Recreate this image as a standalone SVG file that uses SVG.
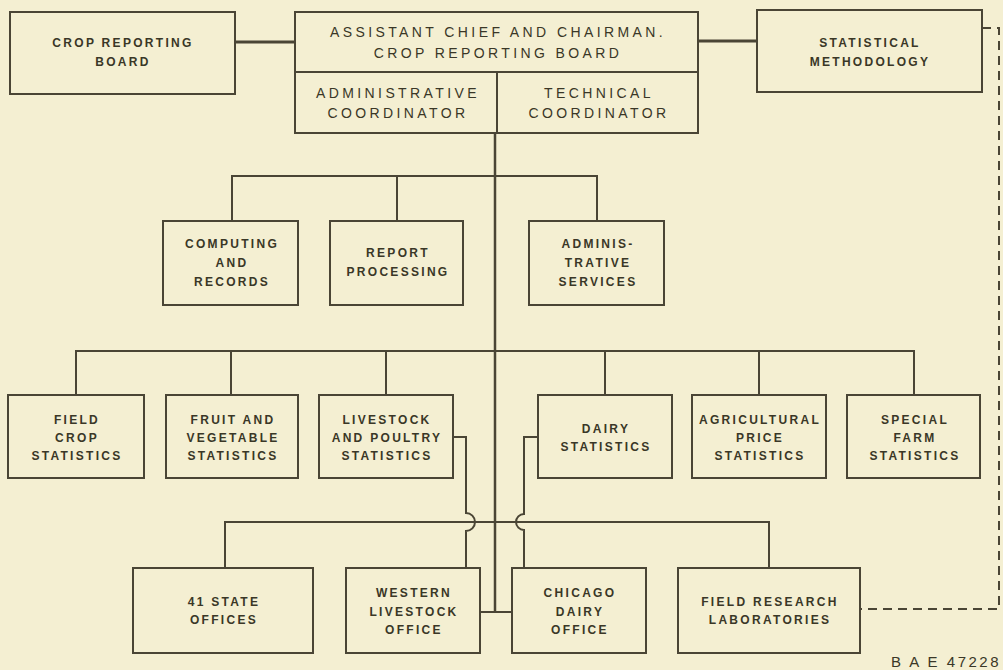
<svg xmlns="http://www.w3.org/2000/svg" width="1003" height="670" viewBox="0 0 1003 670">
<style>
.bx{fill:none;stroke:#4a4535;stroke-width:2}
.ln{fill:none;stroke:#4a4535;stroke-width:2}
.thk{stroke-width:3}
.dsh{fill:none;stroke:#4a4535;stroke-width:2;stroke-dasharray:9 6}
text{font-family:"Liberation Sans",Arial,sans-serif;fill:#3a3727;text-anchor:middle}
.big{font-size:14px;letter-spacing:3.4px}
.sm{font-size:12px;letter-spacing:2.3px;font-weight:bold}
.code{font-size:15px;letter-spacing:2.5px;text-anchor:end}
</style>
<rect x="0" y="0" width="1003" height="670" fill="#f4efd2"/>
<g id="connectors">
<path class="ln thk" d="M235 42H295"/>
<path class="ln thk" d="M698 41H757"/>
<path class="ln" style="stroke-width:2.5" d="M495 133V612"/>
<path class="ln" d="M480 612H512"/>
<path class="ln" d="M232 221V176H597V221M397 176V221"/>
<path class="ln" d="M76 395V351H914V395M231 351V395M386 351V395M605 351V395M759 351V395"/>
<path class="ln" d="M453 437H466V513A9 9 0 0 1 466 531V568"/>
<path class="ln" d="M538 437H524V514A8 8 0 0 0 524 530V568"/>
<path class="ln" d="M225 568V522H769V568"/>
<path class="dsh" d="M982 28H999V609H860"/>
</g>
<g id="crop-reporting-board">
<rect class="bx" x="10" y="12" width="225" height="82"/>
<text class="sm" x="123" y="47">CROP REPORTING</text>
<text class="sm" x="123" y="66">BOARD</text>
</g>
<g id="assistant-chief">
<rect class="bx" x="295" y="12" width="403" height="121"/>
<path class="ln" d="M295 72H698M497 72V133"/>
<text class="big" x="498" y="37">ASSISTANT CHIEF AND CHAIRMAN.</text>
<text class="big" x="498" y="58">CROP REPORTING BOARD</text>
<text class="big" x="398" y="98">ADMINISTRATIVE</text>
<text class="big" x="398" y="118">COORDINATOR</text>
<text class="big" x="599" y="98">TECHNICAL</text>
<text class="big" x="599" y="118">COORDINATOR</text>
</g>
<g id="statistical-methodology">
<rect class="bx" x="757" y="10" width="225" height="82"/>
<text class="sm" x="870" y="47">STATISTICAL</text>
<text class="sm" x="870" y="66">METHODOLOGY</text>
</g>
<g id="computing-records">
<rect class="bx" x="163" y="221" width="135" height="84"/>
<text class="sm" x="232" y="248">COMPUTING</text>
<text class="sm" x="232" y="267">AND</text>
<text class="sm" x="232" y="286">RECORDS</text>
</g>
<g id="report-processing">
<rect class="bx" x="330" y="221" width="133" height="84"/>
<text class="sm" x="398" y="257">REPORT</text>
<text class="sm" x="398" y="276">PROCESSING</text>
</g>
<g id="administrative-services">
<rect class="bx" x="529" y="221" width="135" height="84"/>
<text class="sm" x="598" y="248">ADMINIS-</text>
<text class="sm" x="598" y="267">TRATIVE</text>
<text class="sm" x="598" y="286">SERVICES</text>
</g>
<g id="field-crop">
<rect class="bx" x="8" y="395" width="136" height="83"/>
<text class="sm" x="77" y="424">FIELD</text>
<text class="sm" x="77" y="442">CROP</text>
<text class="sm" x="77" y="460">STATISTICS</text>
</g>
<g id="fruit-vegetable">
<rect class="bx" x="166" y="395" width="132" height="83"/>
<text class="sm" x="233" y="424">FRUIT AND</text>
<text class="sm" x="233" y="442">VEGETABLE</text>
<text class="sm" x="233" y="460">STATISTICS</text>
</g>
<g id="livestock-poultry">
<rect class="bx" x="319" y="395" width="134" height="83"/>
<text class="sm" x="387" y="424">LIVESTOCK</text>
<text class="sm" x="387" y="442">AND POULTRY</text>
<text class="sm" x="387" y="460">STATISTICS</text>
</g>
<g id="dairy-statistics">
<rect class="bx" x="538" y="395" width="134" height="83"/>
<text class="sm" x="606" y="433">DAIRY</text>
<text class="sm" x="606" y="451">STATISTICS</text>
</g>
<g id="agricultural-price">
<rect class="bx" x="692" y="395" width="134" height="83"/>
<text class="sm" x="760" y="424">AGRICULTURAL</text>
<text class="sm" x="760" y="442">PRICE</text>
<text class="sm" x="760" y="460">STATISTICS</text>
</g>
<g id="special-farm">
<rect class="bx" x="847" y="395" width="133" height="83"/>
<text class="sm" x="915" y="424">SPECIAL</text>
<text class="sm" x="915" y="442">FARM</text>
<text class="sm" x="915" y="460">STATISTICS</text>
</g>
<g id="state-offices">
<rect class="bx" x="133" y="568" width="180" height="85"/>
<text class="sm" x="224" y="606">41 STATE</text>
<text class="sm" x="224" y="624">OFFICES</text>
</g>
<g id="western-livestock">
<rect class="bx" x="346" y="568" width="134" height="85"/>
<text class="sm" x="414" y="597">WESTERN</text>
<text class="sm" x="414" y="616">LIVESTOCK</text>
<text class="sm" x="414" y="634">OFFICE</text>
</g>
<g id="chicago-dairy">
<rect class="bx" x="512" y="568" width="134" height="85"/>
<text class="sm" x="580" y="597">CHICAGO</text>
<text class="sm" x="580" y="616">DAIRY</text>
<text class="sm" x="580" y="634">OFFICE</text>
</g>
<g id="field-research">
<rect class="bx" x="678" y="568" width="182" height="85"/>
<text class="sm" x="770" y="606">FIELD RESEARCH</text>
<text class="sm" x="770" y="624">LABORATORIES</text>
</g>
<text class="code" x="1001" y="667">B A E 47228</text>
</svg>
